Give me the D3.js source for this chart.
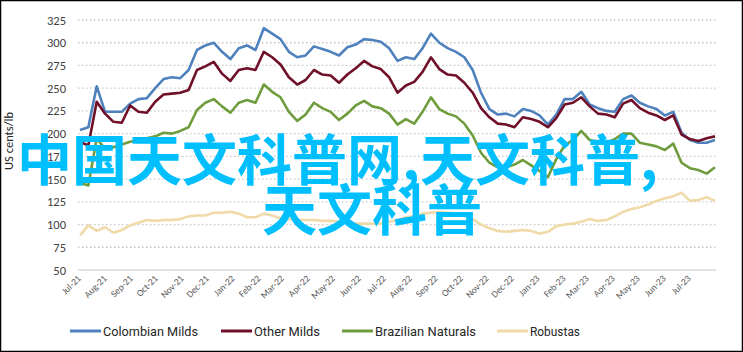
<!DOCTYPE html>
<html>
<head>
<meta charset="utf-8">
<script src="https://cdn.jsdelivr.net/npm/d3@7"></script>
<style>
  body { margin: 0; background: #fff; }
  svg { display: block; }
</style>
</head>
<body>
<div id="chart"></div>
<script>
const width = 743
const height = 352

// 10-day steps from 1 Jul 2021 to 31 Jul 2023
const startDate = new Date(2021, 6, 1)
const stepDays = 10

const seriesNames = ["Colombian Milds", "Other Milds", "Brazilian Naturals", "Robustas"]
const seriesColors = ["#4f81bd", "#6f1028", "#6f9c3d", "#efdaa8"]

const colombianMilds = [204, 207, 252, 224, 224, 224, 233, 238, 239, 250,
  260, 262, 261, 270, 292, 297, 300, 290, 282, 294,
  297, 292, 316, 310, 304, 290, 284, 286, 296, 293,
  290, 286, 295, 298, 304, 303, 301, 294, 280, 284,
  282, 294, 310, 300, 294, 290, 284, 270, 245, 227,
  221, 222, 219, 227, 225, 220, 210, 221, 238, 238,
  246, 232, 228, 225, 224, 238, 242, 234, 230, 227,
  220, 224, 201, 193, 190, 190, 193]

const otherMilds = [191, 187, 235, 222, 213, 212, 231, 224, 223, 235,
  243, 244, 245, 248, 270, 274, 279, 266, 258, 270,
  272, 270, 290, 284, 276, 262, 254, 259, 270, 265,
  264, 256, 265, 272, 280, 274, 271, 262, 245, 253,
  257, 268, 284, 271, 265, 264, 256, 245, 228, 218,
  211, 210, 207, 218, 216, 213, 207, 217, 232, 234,
  240, 230, 222, 221, 218, 233, 237, 228, 223, 220,
  215, 220, 199, 194, 192, 195, 197]

const brazilianNaturals = [146, 143, 195, 183, 185, 188, 191, 193, 195, 197,
  201, 200, 203, 207, 226, 234, 238, 230, 223, 234,
  237, 234, 254, 246, 240, 224, 214, 221, 234, 228,
  224, 215, 222, 231, 236, 230, 228, 222, 210, 216,
  211, 224, 240, 227, 222, 219, 211, 198, 179, 168,
  163, 163, 166, 171, 165, 159, 152, 172, 187, 193,
  203, 193, 191, 190, 194, 200, 200, 190, 188, 186,
  182, 189, 168, 162, 160, 156, 163]

const robustas = [88, 99, 93, 97, 91, 94, 99, 102, 105, 104,
  105, 105, 106, 109, 110, 110, 113, 113, 114, 112,
  108, 108, 112, 110, 107, 106, 105, 105, 105, 104,
  104, 103, 102, 101, 101, 101, 101, 103, 105, 108,
  109, 112, 113, 114, 113, 112, 110, 106, 100, 96,
  93, 92, 93, 94, 93, 90, 92, 98, 100, 101,
  103, 106, 104, 105, 109, 114, 117, 119, 122, 126,
  129, 131, 135, 126, 127, 130, 126]

const yTicks = [50, 75, 100, 125, 150, 175, 200, 225, 250, 275, 300, 325]
const yTitle = "US cents/lb"
const watermarkLines = ["中国天文科普网,天文科普,", "天文科普"]

const allSeries = [colombianMilds, otherMilds, brazilianNaturals, robustas]

const svg = d3.select("#chart")
  .append("svg")
  .attr("width", width)
  .attr("height", height)

const x = d3.scaleTime()
  .domain([startDate, new Date(2023, 6, 31)])
  .range([80, 715])

const y = d3.scaleLinear()
  .domain([50, 325])
  .range([270, 20])

// dotted gridlines
svg.append("g")
  .selectAll("line")
  .data(yTicks.filter(d => d > 50))
  .join("line")
  .attr("x1", 78)
  .attr("x2", 716)
  .attr("y1", d => y(d))
  .attr("y2", d => y(d))
  .attr("stroke", "#c4c4c4")
  .attr("stroke-width", 1.3)
  .attr("stroke-dasharray", "1.4,2.6")

// y axis (labels only)
const yAxis = svg.append("g")
  .attr("transform", "translate(70,0)")
  .call(d3.axisLeft(y).tickValues(yTicks).tickSize(0).tickPadding(4))
yAxis.select(".domain").remove()
yAxis.selectAll("text")
  .attr("font-family", "Carlito, Lato, sans-serif")
  .attr("font-size", 12.5)
  .attr("fill", "#404040")

svg.append("text")
  .attr("transform", "translate(13,141) rotate(-90)")
  .attr("text-anchor", "middle")
  .attr("font-family", "Carlito, Lato, sans-serif")
  .attr("font-size", 12.5)
  .attr("fill", "#262626")
  .text(yTitle)

// x axis
const xAxis = svg.append("g")
  .attr("transform", "translate(0,270)")
  .call(d3.axisBottom(x)
    .tickValues(d3.timeMonth.range(startDate, new Date(2023, 7, 1)))
    .tickFormat(d3.timeFormat("%b-%y"))
    .tickSize(0))
xAxis.select(".domain")
  .attr("d", "M78,0H716")
  .attr("stroke", "#d9d9d9")
  .attr("stroke-width", 1.5)
xAxis.selectAll("text")
  .attr("font-family", "Carlito, Lato, sans-serif")
  .attr("font-size", 9.5)
  .attr("fill", "#595959")
  .attr("text-anchor", "end")
  .attr("dy", 0)
  .attr("y", 0)
  .attr("transform", "translate(1,9) rotate(-45)")

// series lines, Excel draws later series on top
const line = d3.line()
  .x((d, i) => x(d3.timeDay.offset(startDate, i * stepDays)))
  .y(d => y(d))

svg.append("g")
  .selectAll("path")
  .data(allSeries)
  .join("path")
  .attr("d", d => line(d))
  .attr("fill", "none")
  .attr("stroke", (d, i) => seriesColors[i])
  .attr("stroke-width", 2.6)
  .attr("stroke-linejoin", "round")

// legend, condensed text like the original
const legendX = [70, 221, 342, 497]
const legendTextW = [95, 66, 101, 50]
const legend = svg.append("g")
  .selectAll("g")
  .data(seriesNames)
  .join("g")
  .attr("transform", (d, i) => `translate(${legendX[i]},331)`)
legend.append("line")
  .attr("x1", 0)
  .attr("x2", 31)
  .attr("stroke", (d, i) => seriesColors[i])
  .attr("stroke-width", 3)
legend.append("text")
  .attr("x", 33)
  .attr("dy", "0.35em")
  .attr("font-family", "'Liberation Sans Narrow', 'Roboto', sans-serif")
  .attr("font-size", 13.5)
  .attr("fill", "#262626")
  .attr("textLength", (d, i) => legendTextW[i])
  .attr("lengthAdjust", "spacingAndGlyphs")
  .text(d => d)

// watermark overlay
svg.append("text")
  .attr("x", 17)
  .attr("y", 180)
  .attr("font-family", "'Noto Sans CJK SC', sans-serif")
  .attr("font-size", 55)
  .attr("font-weight", 700)
  .attr("fill", "#00bfff")
  .text(watermarkLines[0])
svg.append("text")
  .attr("x", 262)
  .attr("y", 230)
  .attr("font-family", "'Noto Sans CJK SC', sans-serif")
  .attr("font-size", 55)
  .attr("font-weight", 700)
  .attr("fill", "#00bfff")
  .text(watermarkLines[1])

// outer frame
svg.append("rect")
  .attr("x", 0.5)
  .attr("y", 0.5)
  .attr("width", width - 1)
  .attr("height", height - 1)
  .attr("fill", "none")
  .attr("stroke", "#000")
  .attr("stroke-width", 1.5)
</script>
</body>
</html>
